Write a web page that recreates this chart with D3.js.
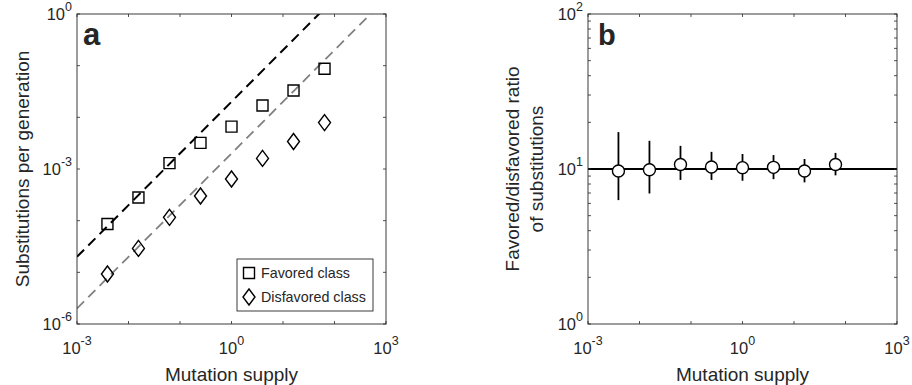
<!DOCTYPE html>
<html>
<head>
<meta charset="utf-8">
<script src="https://cdnjs.cloudflare.com/ajax/libs/d3/7.8.5/d3.min.js"></script>
<style>
body { margin: 0; background: #fff; }
text { font-family: "Liberation Sans", Arial, Helvetica, sans-serif; fill: #262626; }
</style>
</head>
<body>
<svg id="fig" width="912" height="385"></svg>
<script>
// mutation supply (x) shared by both panels
var supply = [0.0039, 0.0156, 0.0625, 0.25, 1, 4, 16, 64];
// panel a
var favored = [8.6e-5, 2.8e-4, 1.3e-3, 3.2e-3, 6.6e-3, 1.7e-2, 3.3e-2, 8.7e-2];
var disfavored = [9.3e-6, 2.9e-5, 1.16e-4, 3.0e-4, 6.4e-4, 1.6e-3, 3.4e-3, 7.9e-3];
var fitSlopes = [0.02, 0.002];          // dashed lines y = k * x
var legendLabels = ["Favored class", "Disfavored class"];
// panel b
var ratio = [9.7, 9.9, 10.7, 10.3, 10.2, 10.25, 9.7, 10.7];
var ratioLow = [6.3, 6.95, 8.5, 8.5, 8.4, 8.6, 8.2, 9.1];
var ratioHigh = [17.3, 15.2, 14.1, 12.9, 12.5, 12.3, 11.6, 12.7];
var ratioLevel = 10;
// ticks
var xTicks = [1e-3, 1e-2, 1e-1, 1e0, 1e1, 1e2, 1e3];
var xTickExp = [-3, 0, 3];
var aTicks = [1e-6, 1e-5, 1e-4, 1e-3, 1e-2, 1e-1, 1e0];
var aTickExp = [-6, -3, 0];
var bTicks = [1, 2, 3, 4, 5, 6, 7, 8, 9, 10, 20, 30, 40, 50, 60, 70, 80, 90, 100];
var bTickExp = [0, 1, 2];

var svg = d3.select("#fig"),
    width = 309,
    height = 310,
    top0 = 14;

var x = d3.scaleLog().domain([1e-3, 1e3]).range([0, width]);
var ya = d3.scaleLog().domain([1e-6, 1]).range([height, 0]);
var yb = d3.scaleLog().domain([1, 100]).range([height, 0]);

var ga = svg.append("g").attr("transform", "translate(77," + top0 + ")");
var gb = svg.append("g").attr("transform", "translate(588," + top0 + ")");

function powLabel(g, px, py, e, anchor) {
  var t = g.append("text")
    .attr("x", px).attr("y", py)
    .attr("text-anchor", anchor)
    .style("font-size", "16.5px");
  t.append("tspan").text("10");
  t.append("tspan").attr("dy", -9).style("font-size", "12.5px").text(String(e));
}

function frame(g, y, yTicks, yExp) {
  g.selectAll(".xt").data(xTicks).enter().append("path")
    .attr("d", function(d) { return "M" + x(d) + "," + height + "v-3M" + x(d) + ",0v3"; })
    .attr("stroke", "#262626").attr("stroke-width", 0.8);
  g.selectAll(".yt").data(yTicks).enter().append("path")
    .attr("d", function(d) { return "M0," + y(d) + "h3M" + width + "," + y(d) + "h-3"; })
    .attr("stroke", "#262626").attr("stroke-width", 0.8);
  g.append("rect")
    .attr("width", width).attr("height", height)
    .attr("fill", "none").attr("stroke", "#262626").attr("stroke-width", 0.9);
  xTickExp.forEach(function(e) { powLabel(g, x(Math.pow(10, e)), height + 30, e, "middle"); });
  yExp.forEach(function(e) { powLabel(g, -5, y(Math.pow(10, e)) + 6, e, "end"); });
  g.append("text")
    .attr("x", width / 2).attr("y", height + 57)
    .attr("text-anchor", "middle")
    .style("font-size", "19px")
    .text("Mutation supply");
}

// clip for dashed lines
svg.append("clipPath").attr("id", "clipA")
  .append("rect").attr("width", width).attr("height", height);

// ---- panel a ----
var line = d3.line()
  .x(function(d) { return x(d[0]); })
  .y(function(d) { return ya(d[1]); });

ga.selectAll(".fit").data(fitSlopes).enter().append("path")
  .attr("clip-path", "url(#clipA)")
  .attr("d", function(k) { return line(x.domain().map(function(v) { return [v, k * v]; })); })
  .attr("fill", "none")
  .attr("stroke", function(k, i) { return i == 0 ? "#000" : "#808080"; })
  .attr("stroke-width", function(k, i) { return i == 0 ? 2 : 1.8; })
  .attr("stroke-dasharray", "10,6");

var sq = "M-5.5,-5.5h11v11h-11z";
var dia = "M0,-8L6,0L0,8L-6,0z";

ga.selectAll(".sq").data(supply).enter().append("path")
  .attr("transform", function(d, i) { return "translate(" + x(d) + "," + ya(favored[i]) + ")"; })
  .attr("d", sq).attr("fill", "none").attr("stroke", "#000").attr("stroke-width", 1.4);

ga.selectAll(".dia").data(supply).enter().append("path")
  .attr("transform", function(d, i) { return "translate(" + x(d) + "," + ya(disfavored[i]) + ")"; })
  .attr("d", dia).attr("fill", "none").attr("stroke", "#000").attr("stroke-width", 1.4);

frame(ga, ya, aTicks, aTickExp);

ga.append("text")
  .attr("transform", "translate(-48," + height / 2 + ") rotate(-90)")
  .attr("text-anchor", "middle")
  .style("font-size", "19px")
  .text("Substitutions per generation");

ga.append("text").attr("x", 6).attr("y", 31)
  .style("font-size", "31px").style("font-weight", "bold").attr("fill", "#000")
  .text("a");

// legend
var leg = ga.append("g").attr("transform", "translate(160,245)");
leg.append("rect").attr("width", 136).attr("height", 52)
  .attr("fill", "#fff").attr("stroke", "#262626").attr("stroke-width", 0.9);
leg.selectAll(".lm").data(legendLabels).enter().append("path")
  .attr("transform", function(d, i) { return "translate(12," + (14 + i * 24) + ")"; })
  .attr("d", function(d, i) { return i == 0 ? sq : dia; })
  .attr("fill", "none").attr("stroke", "#000").attr("stroke-width", 1.4);
leg.selectAll(".lt").data(legendLabels).enter().append("text")
  .attr("x", 24).attr("y", function(d, i) { return 19 + i * 24; })
  .style("font-size", "14.3px")
  .text(function(d) { return d; });

// ---- panel b ----
gb.append("line")
  .attr("x1", 0).attr("x2", width)
  .attr("y1", yb(ratioLevel)).attr("y2", yb(ratioLevel))
  .attr("stroke", "#000").attr("stroke-width", 2);

gb.selectAll(".err").data(supply).enter().append("line")
  .attr("x1", function(d) { return x(d); }).attr("x2", function(d) { return x(d); })
  .attr("y1", function(d, i) { return yb(ratioLow[i]); })
  .attr("y2", function(d, i) { return yb(ratioHigh[i]); })
  .attr("stroke", "#000").attr("stroke-width", 1.8);

gb.selectAll(".pt").data(supply).enter().append("circle")
  .attr("cx", function(d) { return x(d); })
  .attr("cy", function(d, i) { return yb(ratio[i]); })
  .attr("r", 6)
  .attr("fill", "#fff").attr("stroke", "#000").attr("stroke-width", 1.4);

frame(gb, yb, bTicks, bTickExp);

gb.append("text")
  .attr("transform", "translate(-69," + height / 2 + ") rotate(-90)")
  .attr("text-anchor", "middle")
  .style("font-size", "19px")
  .text("Favored/disfavored ratio");
gb.append("text")
  .attr("transform", "translate(-45," + height / 2 + ") rotate(-90)")
  .attr("text-anchor", "middle")
  .style("font-size", "19px")
  .text("of substitutions");

gb.append("text").attr("x", 10).attr("y", 31)
  .style("font-size", "29px").style("font-weight", "bold").attr("fill", "#000")
  .text("b");
</script>
</body>
</html>
